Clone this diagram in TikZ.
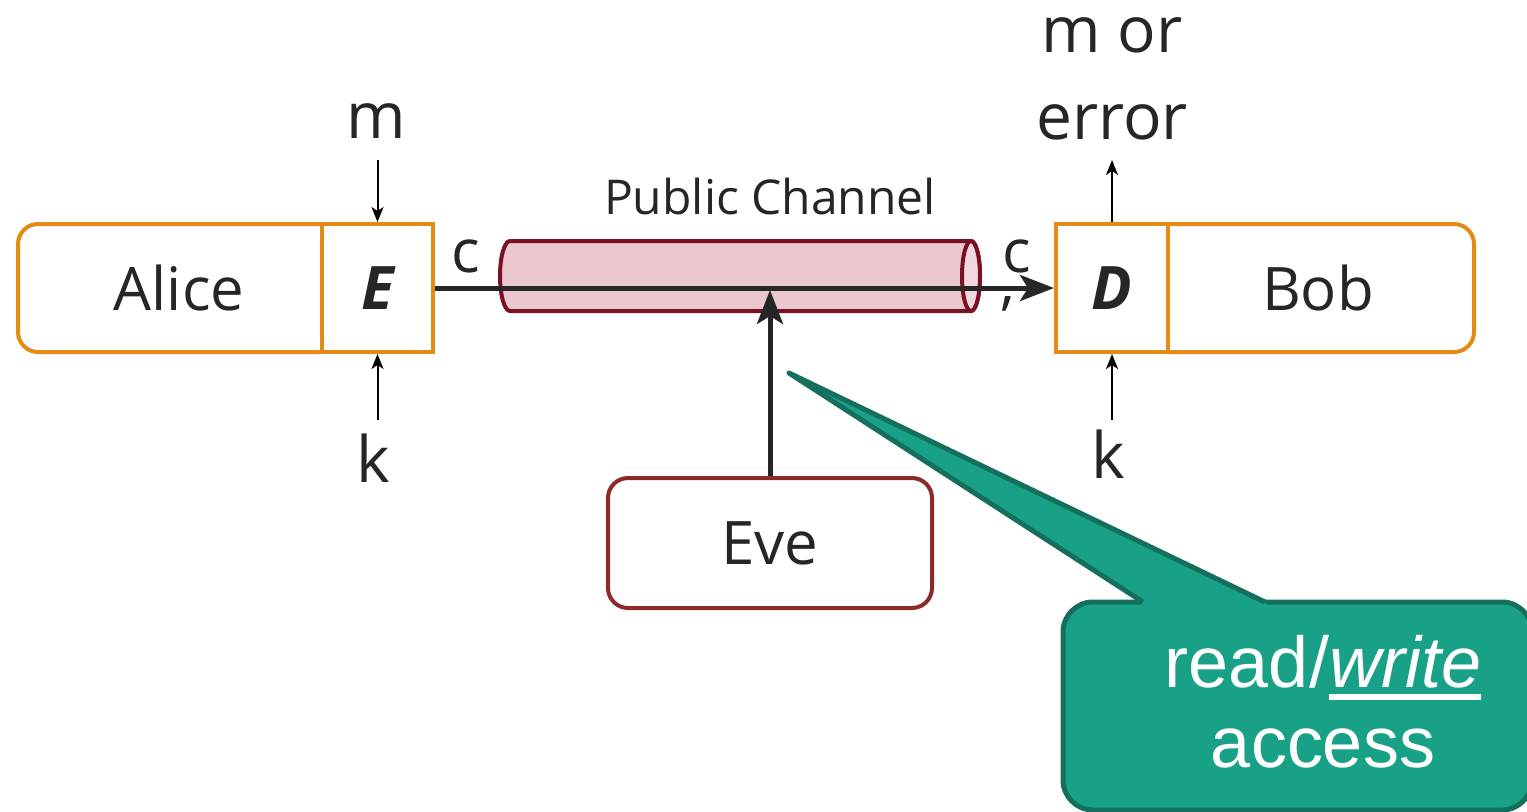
\documentclass[tikz,border=0pt]{standalone}
\usepackage{fontspec}
\setmainfont{Open Sans}
\newfontfamily\calloutfont{Liberation Sans}
\usetikzlibrary{arrows.meta}

\definecolor{boxorange}{RGB}{228,139,22}
\definecolor{inkdark}{RGB}{38,38,38}
\definecolor{tubefill}{RGB}{235,199,206}
\definecolor{tubeedge}{RGB}{122,16,36}
\definecolor{tubecap}{RGB}{242,216,222}
\definecolor{evered}{RGB}{140,42,42}
\definecolor{notefill}{RGB}{25,161,135}
\definecolor{noteedge}{RGB}{20,112,92}

% heavy underline for the callout text
\newcommand{\heavyul}[1]{\setbox0\hbox{#1}\rlap{\raisebox{-6pt}{\rule{\wd0}{3pt}}}\box0}

\tikzset{
  party/.style={draw=boxorange, line width=2pt, fill=white, rounded corners=10pt,
    minimum height=64pt, inner sep=0pt, text=inkdark, font=\fontsize{30}{36}\selectfont},
  cipher/.style={draw=boxorange, line width=2pt, fill=white, minimum height=64pt,
    inner sep=0pt, text=inkdark, font=\fontsize{30}{36}\selectfont\bfseries\itshape},
  attacker/.style={draw=evered, line width=2pt, fill=white, rounded corners=10pt,
    minimum width=162pt, minimum height=65pt, inner sep=0pt, text=inkdark,
    font=\fontsize{30}{36}\selectfont},
  iolabel/.style={text=inkdark, inner sep=0pt, font=\fontsize{32}{43.5}\selectfont},
  wirelabel/.style={text=inkdark, inner sep=0pt, font=\fontsize{30}{36}\selectfont},
  keyarrow/.style={line width=1pt, draw=black, -{Stealth[length=7.5pt, width=6pt, inset=2pt]}},
  flowarrow/.style={line width=2.5pt, draw=inkdark, -{Stealth[length=17pt, width=13pt, inset=4pt]}},
  tube/.style={draw=tubeedge, line width=2pt, fill=tubefill},
  callout/.style={draw=noteedge, line width=2.5pt, fill=notefill, line join=round},
}

\begin{document}
\begin{tikzpicture}[x=0.5pt, y=-0.5pt]
\useasboundingbox (0,0) rectangle (1527,811);

% sender side
\node[party, minimum width=161pt] (alice) at (179,288) {Alice};
\node[cipher, minimum width=55.5pt] (enc) at (377.5,288) {E};

% receiver side
\node[party, minimum width=162pt] (bob) at (1312,288) {\hspace{6pt}Bob};
\node[cipher, minimum width=56pt] (dec) at (1112,288) {D};

% public channel as a horizontal tube
\draw[tube] (971,241) -- (510,241)
  arc[start angle=270, end angle=90, x radius=10, y radius=35]
  -- (971,311)
  arc[start angle=90, end angle=-90, x radius=9, y radius=35];
\draw[tube, fill=tubecap] (971,276) ellipse[x radius=9, y radius=35];
\node[text=inkdark, inner sep=0pt, anchor=base, font=\fontsize{24}{28}\selectfont]
  (chanlabel) at (770,214) {Public Channel};

% eavesdropper
\node[attacker] (eve) at (770,543) {Eve};

% inputs and outputs
\node[iolabel, anchor=base] (msg) at (376,138) {m};
\node[iolabel, anchor=base] (keya) at (373,482) {k};
\node[iolabel, anchor=base] (keyb) at (1108,478) {k};
\node[iolabel, align=center] (out) at (1112,79) {m or\\error};

\coordinate (msgend) at (377.5,160);
\coordinate (keyaend) at (377.5,420);
\coordinate (keybend) at (1112,420);
\coordinate (outend) at (1112,160);

\draw[keyarrow] (msgend) -- (enc.north);
\draw[keyarrow] (keyaend) -- (enc.south);
\draw[keyarrow] (keybend) -- (dec.south);
\draw[keyarrow] (dec.north) -- (outend);

% ciphertext flow
\draw[flowarrow] (enc.east) -- (dec.west);
\node[wirelabel, anchor=base] (cout) at (466,272) {c};
\node[wirelabel, anchor=base] (cin) at (1017,272) {c};
\node[wirelabel, anchor=base] (cinmark) at (1008,303) {,};

% Eve taps the channel
\coordinate (tap) at (770,290);
\draw[flowarrow] (eve.north) -- (tap);

% speech bubble: rounded box, then the pointer laid over its top edge
\coordinate (tip) at (789,373);
\coordinate (baseL) at (1143,602);
\coordinate (baseR) at (1265,602);
\draw[callout, rounded corners=15pt] (1063,602) rectangle (1532,810);
\fill[notefill] (1139,607) -- (baseL) -- (tip) -- (baseR) -- (1269,607) -- cycle;
\draw[callout, fill=none] (baseL) -- (tip) -- (baseR);
\node[text=white, align=center, inner sep=0pt, font=\calloutfont\fontsize{36}{40}\selectfont]
  (note) at (1323,702) {read/\heavyul{\textit{write}}\\access};
\end{tikzpicture}
\end{document}
